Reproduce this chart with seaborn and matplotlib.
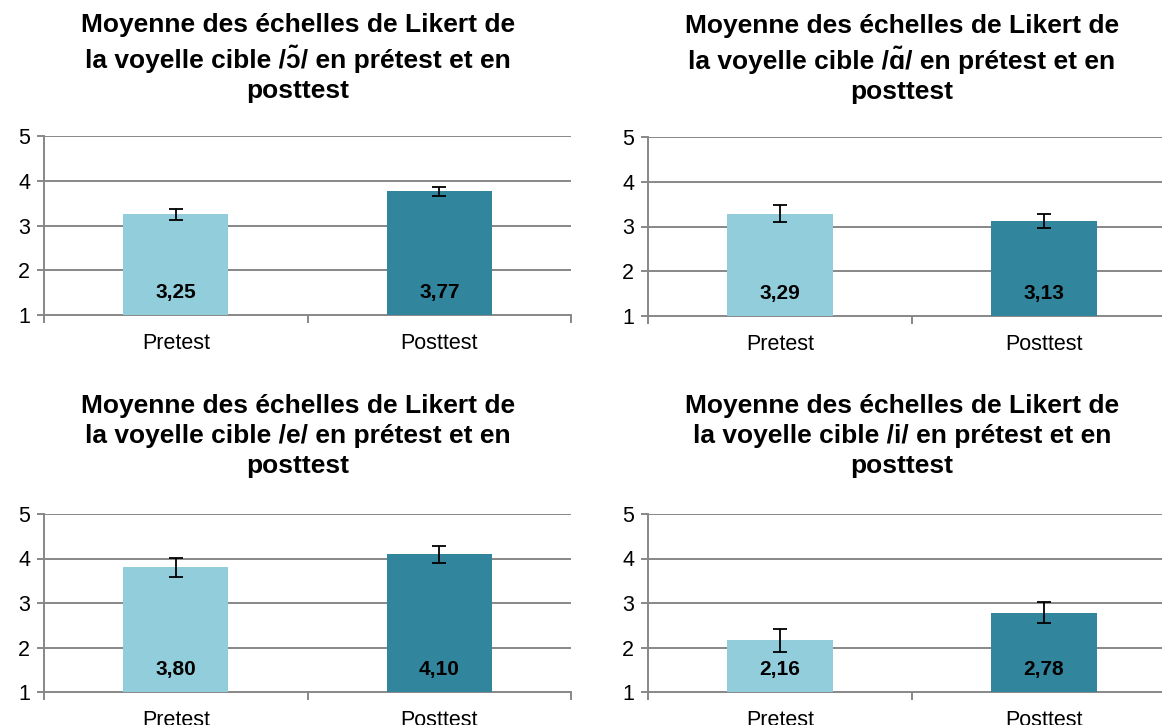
import matplotlib
matplotlib.use("Agg")
import matplotlib.pyplot as plt
import seaborn as sns
import pandas as pd

# Data
categories = ["Pretest", "Posttest"]
vowels = ["/ɔ̃/", "/ɑ̃/", "/e/", "/i/"]
means = [
    [3.25, 3.77],
    [3.29, 3.13],
    [3.80, 4.10],
    [2.16, 2.78],
]
errors = [
    [0.12, 0.10],
    [0.18, 0.16],
    [0.21, 0.19],
    [0.26, 0.24],
]
value_labels = [
    ["3,25", "3,77"],
    ["3,29", "3,13"],
    ["3,80", "4,10"],
    ["2,16", "2,78"],
]
yticks = [1, 2, 3, 4, 5]

sns.set_theme(style="white")
plt.rcParams["font.family"] = ["Liberation Sans", "DejaVu Sans"]

bar_colors = ["#92CDDC", "#31859C"]
grid_color = "#878787"

fig = plt.figure(figsize=(11.62, 7.25), dpi=100)

W, H = 1162, 725
# axes rectangles in pixels: left, top, right, bottom
rects = [
    (44, 136, 571, 315),
    (648, 137, 1176, 316),
    (44, 514, 571, 692),
    (648, 514, 1176, 692),
]
# centre of the middle title line, in pixels
title_pos = [(298, 58), (902, 59), (298, 436), (902, 436)]

for i, (l, t, r, b) in enumerate(rects):
    ax = fig.add_axes([l / W, 1 - b / H, (r - l) / W, (b - t) / H])
    df = pd.DataFrame({"phase": categories, "moyenne": means[i]})
    sns.barplot(data=df, x="phase", y="moyenne", hue="phase",
                palette=bar_colors, width=0.4, ax=ax, legend=False,
                errorbar=None, saturation=1, linewidth=0, zorder=3)
    xs = [p.get_x() + p.get_width() / 2 for p in ax.patches]
    ax.errorbar(xs, means[i], yerr=errors[i], fmt="none", ecolor="black",
                elinewidth=1.3, capsize=5, capthick=1.3, zorder=4)
    for x, lab in zip(xs, value_labels[i]):
        ax.text(x, 1.5, lab, ha="center", va="center", fontsize=15,
                fontweight="bold", color="black", zorder=5)

    ax.set_xlim(-0.5, 1.5)
    ax.set_ylim(1, 5)
    ax.set_yticks(yticks)
    ax.set_yticklabels([str(v) for v in yticks])
    ax.set_xlabel("")
    ax.set_ylabel("")
    for v in yticks[1:]:
        ax.axhline(v, color=grid_color, lw=1.4, zorder=1)

    for s in ["top", "right"]:
        ax.spines[s].set_visible(False)
    for s in ["left", "bottom"]:
        ax.spines[s].set_color(grid_color)
        ax.spines[s].set_linewidth(1.4)
        ax.spines[s].set_zorder(2)

    ax.set_xticks([-0.5, 0.5, 1.5], minor=True)
    ax.tick_params(axis="x", which="minor", length=6, width=1.4,
                   color=grid_color, direction="out", bottom=True)
    ax.tick_params(axis="x", which="major", length=0, labelsize=15.5,
                   pad=13, colors="black")
    ax.tick_params(axis="y", which="major", length=5, width=1.4,
                   color=grid_color, direction="out", left=True,
                   labelsize=15.5, pad=5, labelcolor="black")

    tx, ty = title_pos[i]
    fig.text(tx / W, 1 - ty / H,
             "Moyenne des échelles de Likert de\n"
             f"la voyelle cible {vowels[i]} en prétest et en\nposttest",
             ha="center", va="center", fontsize=19, fontweight="bold",
             linespacing=1.32, color="black")

fig.savefig("out.png", dpi=100, facecolor="white")
